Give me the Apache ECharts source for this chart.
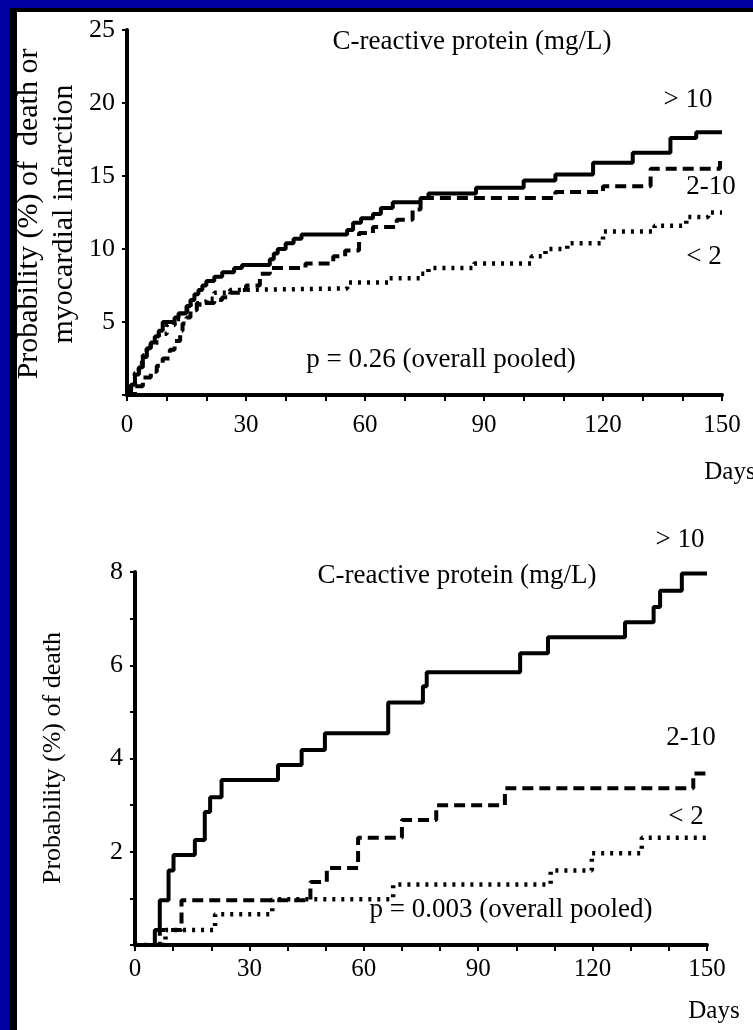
<!DOCTYPE html>
<html>
<head>
<meta charset="utf-8">
<script src="https://cdn.jsdelivr.net/npm/echarts@6/dist/echarts.min.js"></script>
<style>
  body { margin: 0; background: #0000a0; }
  #frame { position: absolute; left: 10px; top: 8px; right: 0; bottom: 0; background: #fff; border-left: 7px solid #000; border-top: 4px solid #000; }
  #main { position: absolute; left: 0; top: 0; width: 753px; height: 1030px; }
</style>
</head>
<body>
<div id="frame"></div>
<div id="main"></div>
<script>
// top panel: death or myocardial infarction (%)
var topHighDays = [0, 1, 2, 3, 4, 5, 6, 7, 8, 9, 12, 13, 15, 16, 17, 18, 19, 20, 22, 24, 27, 29, 36, 37, 38, 40, 42, 44, 55.5, 57, 59, 62, 64, 67, 74, 76, 88, 100, 108, 117.5, 127.5, 137, 143.5, 150]
var topHighVals = [0, 0.7, 1.4, 1.9, 2.6, 3.2, 3.6, 4.0, 4.4, 5.0, 5.3, 5.6, 6.1, 6.5, 6.9, 7.2, 7.5, 7.8, 8.1, 8.4, 8.7, 8.9, 9.3, 9.7, 10.0, 10.4, 10.7, 11.0, 11.3, 11.8, 12.1, 12.4, 12.8, 13.2, 13.5, 13.8, 14.2, 14.7, 15.1, 15.9, 16.6, 17.6, 18.0, 18.0]

var topMidDays = [0, 2, 4, 6, 7.5, 9, 10.8, 12, 13.4, 14, 15, 16, 17.6, 22, 24, 26, 29, 30, 33.5, 36, 45, 52, 55, 58.5, 62, 68, 72, 74, 108, 120, 132, 149.5, 150]
var topMidVals = [0, 0.6, 1.2, 1.6, 2.0, 2.5, 3.1, 3.7, 4.4, 4.9, 5.3, 5.8, 6.3, 6.5, 6.7, 7.0, 7.2, 7.5, 8.3, 8.7, 9.0, 9.5, 9.9, 11.1, 11.5, 12.0, 12.7, 13.5, 13.9, 14.3, 15.5, 16.2, 16.2]

var topLowDays = [0, 1, 2, 3, 4, 5, 6, 8, 10, 12, 14, 16, 19, 20, 22, 26, 28.5, 55.5, 66, 74, 76, 87.5, 102, 105.5, 111, 120, 133, 141, 146.5, 150]
var topLowVals = [0, 0.8, 1.5, 2.2, 2.7, 3.2, 3.6, 4.2, 4.8, 5.2, 5.8, 6.2, 6.4, 6.6, 7.0, 7.2, 7.3, 7.7, 8.0, 8.3, 8.7, 9.0, 9.5, 10.0, 10.4, 11.2, 11.6, 12.2, 12.5, 12.5]

// bottom panel: death (%)
var botHighDays = [0, 5.2, 6.5, 8.8, 10.1, 15.7, 18.3, 19.7, 22.7, 37.5, 43.7, 49.8, 66.4, 75.5, 76.5, 101, 108.3, 128.5, 136, 137.7, 143.4, 150]
var botHighVals = [0, 0.32, 0.96, 1.6, 1.93, 2.25, 2.85, 3.17, 3.54, 3.86, 4.18, 4.54, 5.2, 5.55, 5.85, 6.26, 6.6, 6.92, 7.25, 7.6, 7.97, 7.97]

var botMidDays = [0, 6.5, 12.2, 46, 50.3, 58.5, 70, 79, 97, 146.4, 150]
var botMidVals = [0, 0.32, 0.96, 1.35, 1.65, 2.3, 2.68, 3.0, 3.36, 3.68, 3.68]

var botLowDays = [0, 8, 21, 36, 67.7, 109, 119.8, 132.9, 150]
var botLowVals = [0, 0.32, 0.66, 0.98, 1.3, 1.6, 1.97, 2.3, 2.3]

var dayTicks = [0, 30, 60, 90, 120, 150]

var serif = 'Liberation Serif'

function pairs(xs, ys) {
  return xs.map(function (x, i) { return [x, ys[i]] })
}

function stepLine(name, xs, ys, idx, type, width) {
  return {
    name: name,
    type: 'line',
    step: 'end',
    xAxisIndex: idx,
    yAxisIndex: idx,
    symbol: 'none',
    animation: false,
    data: pairs(xs, ys),
    lineStyle: { color: '#000', width: width, type: type, cap: 'butt' }
  }
}

function xAx(idx, margin) {
  return {
    gridIndex: idx,
    type: 'value',
    min: 0,
    max: 150,
    interval: 10,
    splitLine: { show: false },
    axisLine: { lineStyle: { color: '#000', width: 4 } },
    axisTick: { length: 6, lineStyle: { color: '#000', width: 2 } },
    axisLabel: {
      margin: margin,
      fontFamily: serif,
      fontSize: 25,
      color: '#000',
      formatter: function (v) { return dayTicks.indexOf(v) >= 0 ? String(v) : '' }
    }
  }
}

function yAx(idx, max, interval, show) {
  return {
    gridIndex: idx,
    type: 'value',
    min: 0,
    max: max,
    interval: interval,
    splitLine: { show: false },
    axisLine: { show: true, lineStyle: { color: '#000', width: 4 } },
    axisTick: { show: true, length: 5, lineStyle: { color: '#000', width: 2 } },
    axisLabel: {
      margin: 12,
      fontFamily: serif,
      fontSize: 26,
      color: '#000',
      formatter: function (v) { return show(v) ? String(v) : '' }
    }
  }
}

function txt(s, x, y, size) {
  return {
    type: 'text',
    x: x,
    y: y,
    style: {
      text: s,
      font: (size || 27) + 'px "' + serif + '"',
      fill: '#000',
      textAlign: 'center',
      textVerticalAlign: 'middle'
    }
  }
}

var chart = echarts.init(document.getElementById('main'))

var ytitleTop = txt('Probability (%) of  death or\nmyocardial infarction', 47, 214, 30)
ytitleTop.rotation = Math.PI / 2
ytitleTop.style.lineHeight = 35
var ytitleBot = txt('Probability (%) of death', 53, 758, 26)
ytitleBot.rotation = Math.PI / 2

chart.setOption({
  backgroundColor: 'transparent',
  grid: [
    { left: 127, top: 30, width: 595, height: 365 },
    { left: 135, top: 572, width: 572, height: 373 }
  ],
  xAxis: [xAx(0, 18), xAx(1, 12)],
  yAxis: [
    yAx(0, 25, 5, function (v) { return v > 0 }),
    yAx(1, 8, 1, function (v) { return v > 0 && v % 2 === 0 })
  ],
  series: [
    stepLine('> 10', topHighDays, topHighVals, 0, 'solid', 4),
    stepLine('2-10', topMidDays, topMidVals, 0, [11, 6], 4),
    stepLine('< 2', topLowDays, topLowVals, 0, [3, 6], 4.5),
    stepLine('> 10', botHighDays, botHighVals, 1, 'solid', 4),
    stepLine('2-10', botMidDays, botMidVals, 1, [11, 6], 4),
    stepLine('< 2', botLowDays, botLowVals, 1, [3, 6], 4.5)
  ],
  graphic: [
    ytitleTop,
    ytitleBot,
    txt('C-reactive protein (mg/L)', 472, 42),
    txt('> 10', 688, 100),
    txt('2-10', 711, 187),
    txt('< 2', 704, 257),
    txt('p = 0.26 (overall pooled)', 441, 360),
    txt('Days', 730, 472, 25),
    txt('C-reactive protein (mg/L)', 457, 576),
    txt('> 10', 680, 540),
    txt('2-10', 691, 738),
    txt('< 2', 686, 817),
    txt('p = 0.003 (overall pooled)', 511, 910),
    txt('Days', 714, 1011, 25)
  ]
})
</script>
</body>
</html>
